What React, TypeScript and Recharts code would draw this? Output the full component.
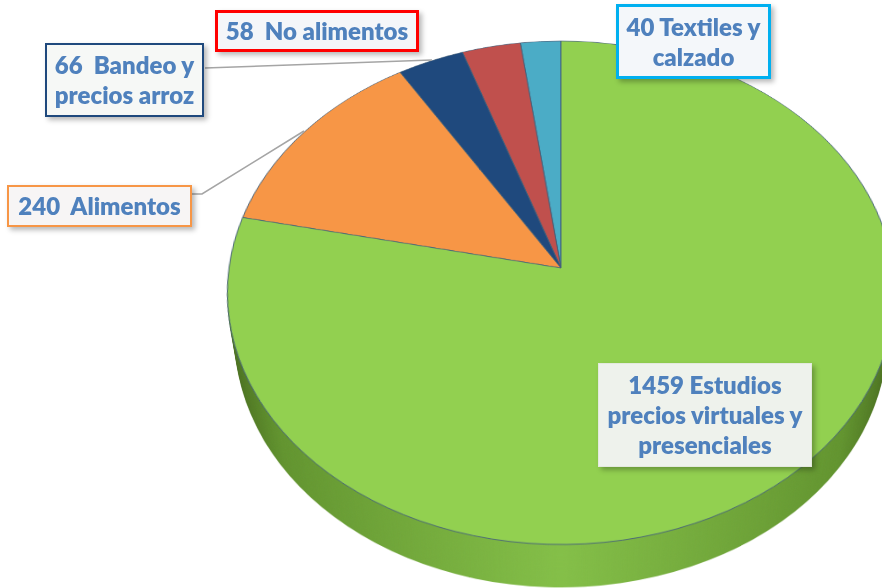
import React from "react";
import { PieChart, Pie, Cell } from "recharts";

// ---- data ----
const sliceNames = [
  "Textiles y calzado",
  "No alimentos",
  "Bandeo y precios arroz",
  "Alimentos",
  "Estudios precios virtuales y presenciales",
];
const sliceValues = [40, 58, 66, 240, 1459];
const labelLines = [
  ["40 Textiles y", "calzado"],
  ["58  No alimentos"],
  ["66  Bandeo y", "precios arroz"],
  ["240  Alimentos"],
  ["1459 Estudios", "precios virtuales y", "presenciales"],
];

// ---- styling ----
const sliceColors = ["#4bacc6", "#c0504d", "#1f497d", "#f79646", "#92d050"];
const labelBorders = ["#00b0f0", "#ff0000", "#1f497d", "#f79646", "#e3e9de"];
const labelBoxes = [
  { left: 616, top: 4, width: 155, height: 75, bw: 3, bg: "#f4f7fa" },
  { left: 215, top: 10, width: 204, height: 42, bw: 3, bg: "#f4f6f9" },
  { left: 45, top: 43, width: 159, height: 74, bw: 2.5, bg: "#f6f8f6" },
  { left: 7, top: 185, width: 185, height: 42, bw: 2.5, bg: "#f7f5f5" },
  { left: 598, top: 363, width: 214, height: 104, bw: 1, bg: "#eef2ec" },
];
const leaderLines = [
  "205,68 432,60",
  "192,194 202,194 304,131",
];

const data = sliceNames.map((name, i) => ({ name, value: sliceValues[i] }));

const APEX_X = 560.7;
const APEX_Y = 267.5;
const R = 332;
const SIZE = 680;
const C = 340;
const TILT = 41.33;
const PERSP = 2230;
const DEPTH = 70;
const layerDepths: number[] = [];
for (let d = DEPTH; d > 0; d -= 2) layerDepths.push(d);

function Disk({ depth, top }: { depth: number; top: boolean }) {
  return (
    <div
      style={{
        position: "absolute",
        left: APEX_X - C,
        top: APEX_Y - C,
        width: SIZE,
        height: SIZE,
        transformOrigin: `${C}px ${C}px`,
        transform: `perspective(${PERSP}px) rotateX(${TILT}deg) translateZ(${-depth}px)`,
      }}
    >
      <PieChart width={SIZE} height={SIZE} margin={{ top: 0, right: 0, bottom: 0, left: 0 }}>
        <Pie
          data={data}
          dataKey="value"
          nameKey="name"
          cx={C}
          cy={C}
          innerRadius={0}
          outerRadius={R}
          startAngle={90}
          endAngle={450}
          isAnimationActive={false}
          stroke={top ? "#44607a" : "none"}
          strokeWidth={top ? 0.9 : 0}
          label={false}
          labelLine={false}
        >
          {data.map((d, i) => (
            <Cell key={d.name} fill={top ? sliceColors[i] : "url(#sideGrad)"} />
          ))}
        </Pie>
      </PieChart>
    </div>
  );
}

export default function App() {
  return (
    <div
      style={{
        position: "absolute",
        left: 0,
        top: 0,
        width: 882,
        height: 588,
        overflow: "hidden",
        background: "#ffffff",
      }}
    >
      <svg width={0} height={0} style={{ position: "absolute" }}>
        <defs>
          <linearGradient id="sideGrad" x1="0" y1="0" x2="1" y2="0">
            <stop offset="0" stopColor="#466a1d" />
            <stop offset="0.1" stopColor="#62942f" />
            <stop offset="0.5" stopColor="#84bf48" />
            <stop offset="0.9" stopColor="#62942f" />
            <stop offset="1" stopColor="#466a1d" />
          </linearGradient>
        </defs>
      </svg>
      {layerDepths.map((d) => (
        <Disk key={d} depth={d} top={false} />
      ))}
      <Disk depth={0} top={true} />
      <svg
        width={882}
        height={588}
        style={{ position: "absolute", left: 0, top: 0 }}
      >
        {leaderLines.map((p, i) => (
          <polyline key={i} points={p} fill="none" stroke="#a5a5a5" strokeWidth={1.6} />
        ))}
      </svg>
      {labelBoxes.map((b, i) => (
        <div
          key={i}
          style={{
            position: "absolute",
            left: b.left,
            top: b.top,
            width: b.width,
            height: b.height,
            boxSizing: "border-box",
            border: `${b.bw}px solid ${labelBorders[i]}`,
            background: b.bg,
            boxShadow: "3px 3px 5px rgba(0,0,0,0.28)",
            display: "flex",
            flexDirection: "column",
            justifyContent: "center",
            alignItems: "center",
            fontFamily: "Lato, 'Open Sans', sans-serif",
            fontWeight: 800,
            fontSize: 24,
            lineHeight: "30px",
            color: "#4f81bd",
            whiteSpace: "pre",
            textAlign: "center",
          }}
        >
          {labelLines[i].map((t, j) => (
            <div key={j}>{t}</div>
          ))}
        </div>
      ))}
    </div>
  );
}
